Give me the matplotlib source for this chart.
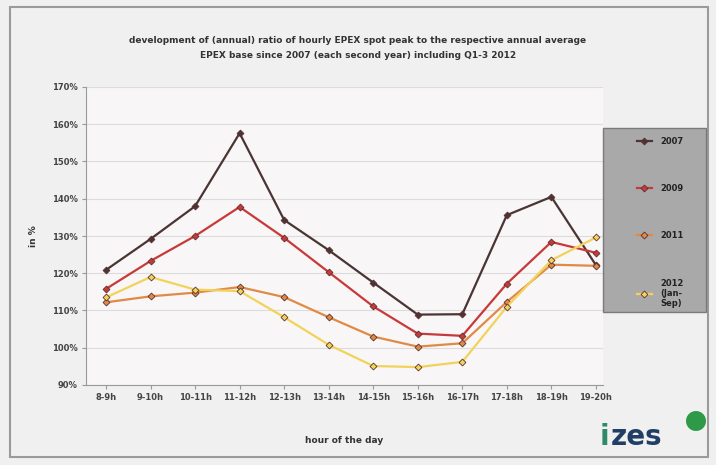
import numpy as np
import matplotlib
matplotlib.use("Agg")
import matplotlib.pyplot as plt
from matplotlib.patches import Rectangle, Ellipse

hours = ["8-9h", "9-10h", "10-11h", "11-12h", "12-13h", "13-14h",
         "14-15h", "15-16h", "16-17h", "17-18h", "18-19h", "19-20h"]
y2007 = [120.9, 129.2, 138.0, 157.6, 134.3, 126.2, 117.5, 108.9, 109.0, 135.6, 140.5, 122.2]
y2009 = [115.8, 123.3, 130.0, 137.8, 129.5, 120.3, 111.1, 103.8, 103.2, 117.2, 128.4, 125.5]
y2011 = [112.2, 113.8, 114.8, 116.3, 113.6, 108.2, 103.0, 100.3, 101.2, 112.3, 122.3, 122.0]
y2012 = [113.5, 119.0, 115.6, 115.2, 108.2, 100.8, 95.1, 94.8, 96.2, 111.0, 123.5, 129.6]
series = [("2007", y2007, "#4b3434"),
          ("2009", y2009, "#c8393a"),
          ("2011", y2011, "#e08a45"),
          ("2012\n(Jan-\nSep)", y2012, "#f2d35a")]
yticks = np.arange(90, 171, 10)

W, H = 716, 465
fig = plt.figure(figsize=(7.16, 4.65), dpi=100, facecolor="#f0f0f0")
# outer frame
fig.patches.append(Rectangle((10/W, 8/H), 698/W, 450/H, transform=fig.transFigure,
                             fill=False, edgecolor="#9a9a9a", linewidth=1.5))

ax = fig.add_axes([86/W, 80/H, 517/W, 298/H])
ax.set_facecolor("#f8f6f6")
x = np.arange(len(hours))
for name, vals, col in series:
    ax.plot(x, vals, color=col, linewidth=1.6, marker="D", markersize=3.5,
            markerfacecolor=col, markeredgecolor="#5a3030", markeredgewidth=0.6,
            label=name)

ax.set_xlim(-0.45, 11.16)
ax.set_ylim(90, 170)
ax.set_yticks(yticks)
ax.set_yticklabels(["%d%%" % v for v in yticks], fontsize=6, fontweight="bold", color="#444444")
ax.set_xticks(x)
ax.set_xticklabels(hours, fontsize=6, fontweight="bold", color="#444444")
ax.grid(axis="y", color="#dcdcdc", linewidth=0.8)
ax.set_axisbelow(True)
for s in ["top", "right"]:
    ax.spines[s].set_visible(False)
for s in ["left", "bottom"]:
    ax.spines[s].set_color("#999999")
ax.tick_params(axis="both", length=3, color="#999999", pad=3)
ax.set_ylabel("in %", fontsize=6.5, fontweight="bold", color="#333333", labelpad=10)
ax.set_xlabel("hour of the day", fontsize=6.5, fontweight="bold", color="#333333", labelpad=24)

fig.text(0.5, 1 - 48/H, "development of (annual) ratio of hourly EPEX spot peak to the respective annual average\n"
         "EPEX base since 2007 (each second year) including Q1-3 2012",
         ha="center", va="center", fontsize=6.5, fontweight="bold", color="#333333", linespacing=1.8)

# legend box
fig.patches.append(Rectangle((603/W, 1 - 312/H), 103/W, 184/H, transform=fig.transFigure,
                             facecolor="#a9a9a9", edgecolor="#7a7a7a", linewidth=1))
leg = fig.legend(loc="upper left", bbox_to_anchor=(630/W, 1 - 130/H), frameon=False,
                 fontsize=6, labelspacing=4.6, handlelength=1.8, handletextpad=1.0,
                 borderpad=0.3)
for t in leg.get_texts():
    t.set_fontweight("bold")
    t.set_color("#222222")

# logo
fig.text(600/W, 1 - 437/H, "i", fontsize=20, fontweight="bold", color="#2f8a6a", va="center", ha="left")
fig.text(611/W, 1 - 437/H, "zes", fontsize=20, fontweight="bold", color="#1f3f66", va="center", ha="left")
fig.patches.append(Ellipse((696/W, 1 - 421/H), 20/W, 20/H, transform=fig.transFigure,
                           facecolor="#2e9a48", edgecolor="none"))

fig.savefig("out.png", dpi=100, facecolor=fig.get_facecolor())
